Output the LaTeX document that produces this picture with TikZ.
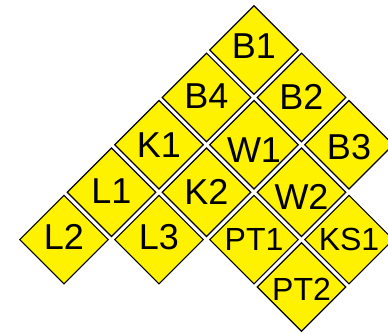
\documentclass[tikz,border=0pt]{standalone}
\usepackage{fontspec}
\setmainfont{Liberation Sans}
\usetikzlibrary{shapes.geometric}
\tikzset{
  tile/.style={diamond, aspect=1, draw=black, line width=1.2pt, fill=yellow,
    minimum size=89pt, inner sep=0pt},
  tag/.style={inner sep=0pt, font=\fontsize{36}{36}\selectfont},
  smalltag/.style={tag, font=\fontsize{32}{32}\selectfont}
}
\begin{document}
\begin{tikzpicture}[x=1pt,y=-1pt]
\useasboundingbox (0,0) rectangle (388,333);
\clip (0,0) rectangle (388,333);
% big labels
\foreach \name/\i/\j/\dy in {B1/4/0/4, B4/3/1/1, B2/5/1/0, K1/2/2/0, W1/4/2/-5,
    B3/6/2/-2, L1/1/3/1, K2/3/3/0, W2/5/3/-5, L2/0/4/3, L3/2/4/3}
  \node[tile, label={[tag, yshift=\dy pt]center:\name}] (\name)
    at (64+47.5*\i, 50+47.4*\j) {};
% smaller labels
\foreach \name/\i/\j/\dy in {PT1/4/4/0, KS1/6/4/0, PT2/5/5/-2}
  \node[tile, label={[smalltag, yshift=\dy pt]center:\name}] (\name)
    at (64+47.5*\i, 50+47.4*\j) {};
\end{tikzpicture}
\end{document}
